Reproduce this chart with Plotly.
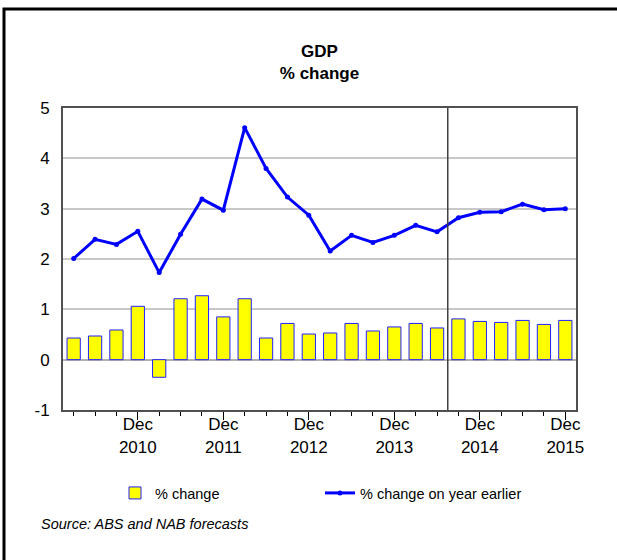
import plotly.graph_objects as go

quarters = list(range(24))  # Mar 2010 .. Dec 2015 (quarterly)
quarter_labels = [f"{m} {y}" for y in range(2010, 2016) for m in ["Mar", "Jun", "Sep", "Dec"]]
qoq_change = [0.43, 0.47, 0.59, 1.06, -0.35, 1.21, 1.27, 0.85, 1.21, 0.43, 0.72, 0.51,
              0.53, 0.72, 0.57, 0.65, 0.72, 0.63, 0.81, 0.76, 0.74, 0.78, 0.70, 0.78]
yoy_change = [2.01, 2.39, 2.29, 2.55, 1.73, 2.49, 3.19, 2.97, 4.61, 3.80, 3.23, 2.87,
              2.16, 2.47, 2.33, 2.47, 2.67, 2.54, 2.82, 2.93, 2.94, 3.09, 2.98, 3.00]
tick_positions = [3, 7, 11, 15, 19, 23]
tick_labels = ["Dec<br>2010", "Dec<br>2011", "Dec<br>2012", "Dec<br>2013", "Dec<br>2014", "Dec<br>2015"]
forecast_start = 17.5
y_ticks = [-1, 0, 1, 2, 3, 4, 5]
y_tick_labels = ["-1", "0", "1", "2", "3", "4", "5"]

FONT = "Liberation Sans, Arial, sans-serif"

fig = go.Figure()
fig.add_trace(go.Bar(
    x=quarters, y=qoq_change, name="% change",
    marker=dict(color="#ffff00", line=dict(color="#2020ff", width=1)),
    customdata=quarter_labels,
))
fig.add_trace(go.Scatter(
    x=quarters, y=yoy_change, name="% change on year earlier",
    mode="lines+markers",
    line=dict(color="#0000ff", width=3),
    marker=dict(color="#0000ff", size=5),
    customdata=quarter_labels,
))

# forecast divider
fig.add_shape(type="line", xref="x", yref="paper", x0=forecast_start, x1=forecast_start,
              y0=0, y1=1, line=dict(color="#404040", width=1.5))

# outer frame (left and top edges visible)
fig.add_shape(type="rect", xref="paper", yref="paper",
              x0=(4 - 63) / 513, x1=1.3, y0=-0.7, y1=(410 - 9) / 302,
              line=dict(color="black", width=3), layer="above")

# source note
fig.add_annotation(text="<i>Source: ABS and NAB forecasts</i>", xref="paper", yref="paper",
                   x=(39 - 63) / 513, y=(410 - 524) / 302, xanchor="left", yanchor="middle",
                   showarrow=False, font=dict(family=FONT, size=14.5, color="black"))

fig.update_layout(
    width=617, height=560,
    margin=dict(l=63, r=41, t=108, b=150, pad=0),
    paper_bgcolor="white", plot_bgcolor="white",
    font=dict(family=FONT, size=16, color="black"),
    title=dict(text="<b>GDP</b><br><b>% change</b>", x=0.5, xref="paper", xanchor="center",
               y=1 - 57 / 560, yref="container", yanchor="top",
               font=dict(family=FONT, size=17, color="black")),
    bargap=0.38,
    showlegend=True,
    legend=dict(orientation="h", xref="container", yref="container",
                x=115 / 617, y=1 - 493 / 560, xanchor="left", yanchor="middle",
                entrywidth=160, entrywidthmode="pixels",
                font=dict(family=FONT, size=14.5, color="black"),
                bgcolor="rgba(0,0,0,0)", itemwidth=30),
    xaxis=dict(range=[-0.5, 23.5], tickmode="array", tickvals=tick_positions, ticktext=tick_labels,
               ticks="outside", ticklen=8, tickwidth=1, tickcolor="black",
               ticklabelstandoff=-10,
               minor=dict(tickmode="linear", tick0=0, dtick=1, ticks="outside", ticklen=4,
                          tickcolor="black", tickwidth=1, showgrid=False),
               showgrid=False, zeroline=False,
               showline=True, mirror=True, linecolor="#505050", linewidth=2,
               tickfont=dict(family=FONT, size=17, color="black")),
    yaxis=dict(range=[-1, 5], tickmode="array", tickvals=y_ticks, ticktext=y_tick_labels,
               showgrid=True, gridcolor="#c8c8c8", gridwidth=1.5,
               zeroline=True, zerolinecolor="#b0b0b0", zerolinewidth=1.5,
               showline=True, mirror=True, linecolor="#505050", linewidth=2,
               ticks="", ticklabelstandoff=8,
               tickfont=dict(family=FONT, size=17, color="black")),
)

fig.write_html("out.html", config={"displayModeBar": False},
               post_script="document.body.style.margin='0';")
